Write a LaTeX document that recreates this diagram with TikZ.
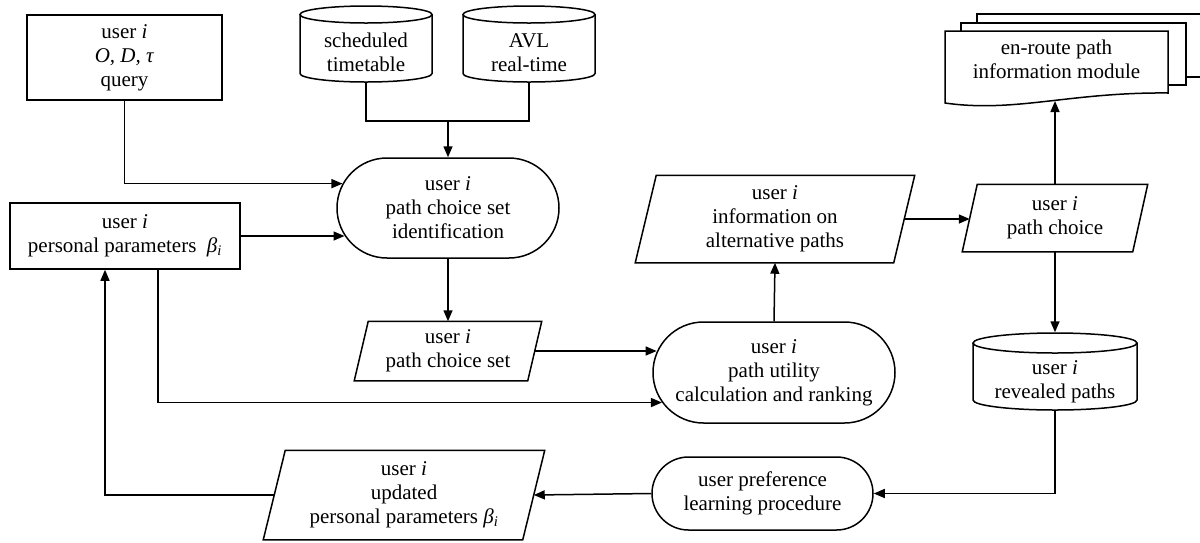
\documentclass[tikz,border=0pt]{standalone}
\usepackage{fontspec}
\setmainfont{Liberation Serif}
\usetikzlibrary{arrows.meta,shapes.misc,calc}
\tikzset{
  txt/.style={font=\fontsize{21}{24}\selectfont, align=center, inner sep=0pt},
  arr/.style={-{Triangle[length=11pt,width=9pt]}},
  oval/.style={txt, draw, rounded rectangle},
  box/.style={txt, draw, rectangle},
}
\newcommand\parabox[7]{% name, cx, cy, side width, height, slant, text
  \node[txt, minimum width=#4, minimum height=#5] (#1) at (#2,#3) {#7};
  \draw ([xshift={-#6/2}]#1.south west) -- ([xshift={#6/2}]#1.north west)
     -- ([xshift={#6/2}]#1.north east) -- ([xshift={-#6/2}]#1.south east) -- cycle;
}
\newcommand\dbcyl[7]{% name, cx, top, bottom, half width, ry, text
  \node[txt, minimum width={2*#5}, minimum height={#4-#3-2*#6}] (#1) at (#2,{(#3+2*#6+#4)/2}) {#7};
  \draw ({#2-#5},{#3+#6}) -- ({#2-#5},{#4-#6}) arc[start angle=180, end angle=360, x radius=#5pt, y radius=#6pt] -- ({#2+#5},{#3+#6});
  \draw (#2,{#3+#6}) ellipse [x radius=#5pt, y radius=#6pt];
}
\begin{document}
\begin{tikzpicture}[x=1pt,y=-1pt,line width=1.5pt]
\useasboundingbox (0,0) rectangle (1200,542);

% nodes
\node[box, minimum width=195, minimum height=85] (query) at (124.5,57.5)
  {user \textit{i}\\\textit{O, D, τ}\\query};
\node[box, minimum width=230, minimum height=66] (pers) at (125,236)
  {user \textit{i}\\personal parameters\enspace\textit{β\textsubscript{i}}};

\dbcyl{sched}{366}{6}{82}{66}{8.5}{scheduled\\timetable}
\dbcyl{avl}{529}{6}{82}{66}{8.5}{AVL\\real-time}

\node[oval, minimum width=222, minimum height=100] (ident) at (448,208)
  {user \textit{i}\\path choice set\\identification};

\parabox{pcs}{448}{351}{172}{58}{14}{user \textit{i}\\path choice set}

\node[oval, minimum width=242, minimum height=101] (util) at (774,372.5)
  {user \textit{i}\\path utility\\calculation and ranking};

\parabox{info}{775}{219}{257}{86}{21}{user \textit{i}\\information on\\alternative paths}

\parabox{pc}{1055}{218}{169}{66}{15}{user \textit{i}\\path choice}

% document stack
\draw (977,23) -- (977,14) -- (1205,14);
\draw (1186,77) -- (1205,77);
\draw (961,31) -- (961,23) -- (1186,23) -- (1186,85) -- (1168,85);
\draw (945,31) -- (1168,31) -- (1168,93) .. controls (1070,92) and (1015,113) .. (945,103) -- cycle;
\node[txt] (doc) at (1056.5,59) {en-route path\\information module};
\coordinate (docb) at (1055,101);

\dbcyl{rev}{1055}{333}{410}{82}{10}{user \textit{i}\\revealed paths}

\node[oval, minimum width=221, minimum height=73] (pref) at (762.5,493.5)
  {user preference\\learning procedure};

\parabox{upd}{404}{495}{258}{88}{22}{user \textit{i}\\updated\\personal parameters \textit{β\textsubscript{i}}}

% connectors
\coordinate (join) at (448,121);
\draw (query.south) |- (ident.167);
\draw (sched.south) |- (join) -| (avl.south);
\draw[arr] (join) -- (ident.north);
\draw[arr] (query.south |- ident.167) -- (ident.167);
\draw[arr] (pers.east) -- (pers.east -| ident.195);
\draw[arr] (ident.south) -- (pcs.north);
\draw[arr] (pcs.east) -- (pcs.east -| util.170);
\draw[arr] ([xshift=33pt]pers.south) |- (util.195);
\draw[arr] (util.north) -- (info.south);
\draw[arr] (info.east) -- (info.east -| pc.west);
\draw[arr] (pc.north) -- (docb);
\draw[arr] (pc.south) -- ([yshift=20pt]rev.north);
\draw[arr] (rev.south) |- (pref.east);
\draw[arr] (pref.west) -- (upd.east);
\draw[arr] (upd.west) -| ([xshift=-20pt]pers.south);
\end{tikzpicture}
\end{document}
